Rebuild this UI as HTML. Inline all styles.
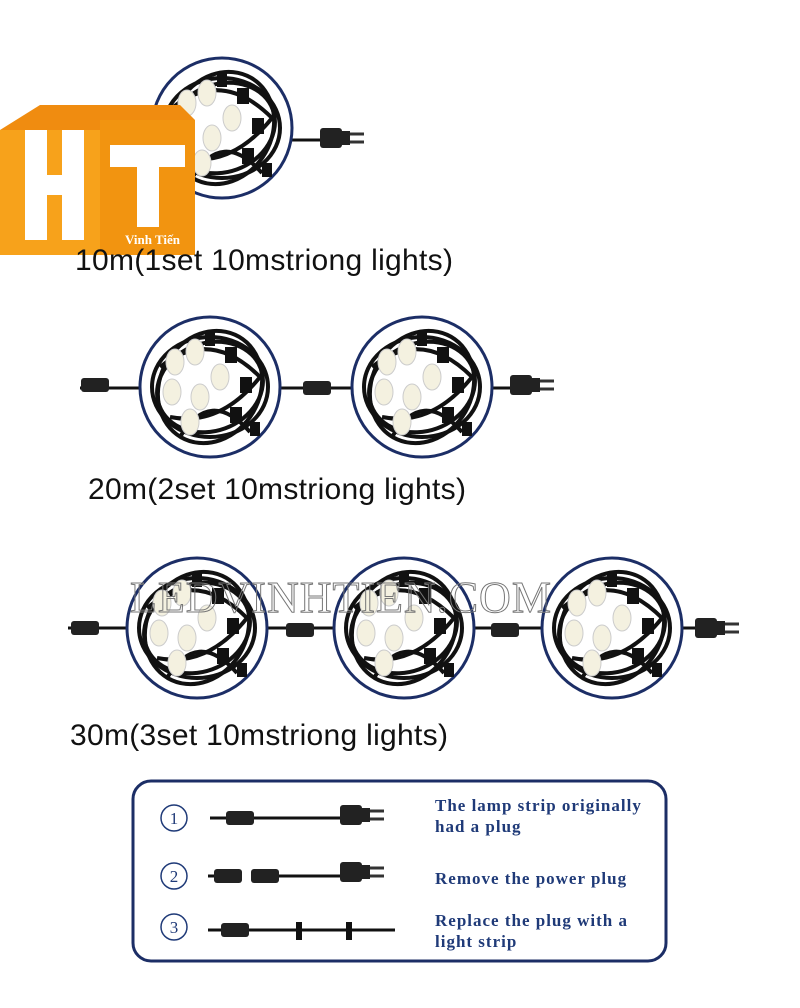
<!DOCTYPE html>
<html><head><meta charset="utf-8"><style>
body{margin:0;background:#fff;width:800px;height:1008px;overflow:hidden;position:relative;font-family:"Liberation Sans",sans-serif}
.t{position:absolute;font-size:30px;color:#111;letter-spacing:0.3px;white-space:nowrap}
.s{position:absolute;font-family:"Liberation Serif",serif;font-weight:bold;color:#1f3a78;font-size:17px;line-height:21px;letter-spacing:1px;white-space:nowrap}
</style></head><body>
<svg width="800" height="1008" style="position:absolute;left:0;top:0">
<defs>
<g id="coil">
<circle r="70" fill="#fff" stroke="#1c2e66" stroke-width="3"/>
<g fill="none" stroke="#111" stroke-width="4">
<ellipse rx="58" ry="50" />
<ellipse rx="50" ry="58" transform="rotate(30)"/>
<ellipse rx="54" ry="44" transform="rotate(-20)"/>
<path d="M-50 -20 Q0 -60 50 -10 Q10 40 -40 30"/>
<path d="M-30 50 Q0 0 40 45"/>
</g>
<g fill="#f4f1e0" stroke="#ccc">
<ellipse cx="-35" cy="-25" rx="9" ry="13"/><ellipse cx="-15" cy="-35" rx="9" ry="13"/>
<ellipse cx="-38" cy="5" rx="9" ry="13"/><ellipse cx="-10" cy="10" rx="9" ry="13"/>
<ellipse cx="10" cy="-10" rx="9" ry="13"/><ellipse cx="-20" cy="35" rx="9" ry="13"/>
</g>
<g fill="#111"><rect x="15" y="-40" width="12" height="16"/><rect x="30" y="-10" width="12" height="16"/><rect x="20" y="20" width="12" height="16"/><rect x="40" y="35" width="10" height="14"/><rect x="-5" y="-55" width="10" height="14"/></g>
</g>
<g id="plug"><rect x="0" y="-10" width="22" height="20" rx="3" fill="#222"/><rect x="22" y="-7" width="8" height="14" fill="#222"/><line x1="30" y1="-4" x2="44" y2="-4" stroke="#333" stroke-width="3"/><line x1="30" y1="4" x2="44" y2="4" stroke="#333" stroke-width="3"/></g>
<g id="conn"><rect x="-14" y="-7" width="28" height="14" rx="3" fill="#222"/></g>
</defs>
<line x1="290" y1="140" x2="320" y2="140" stroke="#111" stroke-width="3"/>
<use href="#coil" x="222" y="128"/><use href="#plug" x="320" y="138"/>
<line x1="80" y1="388" x2="530" y2="388" stroke="#111" stroke-width="3"/>
<use href="#conn" x="95" y="385"/><use href="#conn" x="317" y="388"/>
<use href="#coil" x="210" y="387"/><use href="#coil" x="422" y="387"/><use href="#plug" x="510" y="385"/>
<line x1="68" y1="628" x2="710" y2="628" stroke="#111" stroke-width="3"/>
<use href="#conn" x="85" y="628"/><use href="#conn" x="300" y="630"/><use href="#conn" x="505" y="630"/>
<use href="#coil" x="197" y="628"/><use href="#coil" x="404" y="628"/><use href="#coil" x="612" y="628"/><use href="#plug" x="695" y="628"/>
<text x="130" y="612" font-family="Liberation Serif" font-size="44" fill="none" stroke="#777" stroke-width="1" letter-spacing="1">LEDVINHTIEN.COM</text>
<polygon points="0,130 40,105 180,105 195,120 195,255 0,255" fill="#f08c10"/>
<rect x="0" y="130" width="100" height="125" fill="#f7a21b"/>
<rect x="100" y="120" width="95" height="135" fill="#f29410"/>
<rect x="25" y="130" width="22" height="110" fill="#fff"/><rect x="62" y="130" width="22" height="110" fill="#fff"/><rect x="47" y="175" width="15" height="20" fill="#fff"/>
<rect x="110" y="145" width="75" height="22" fill="#fff"/><rect x="137" y="167" width="22" height="60" fill="#fff"/>
<text x="125" y="244" font-family="Liberation Serif" font-size="13" font-weight="bold" fill="#fff">Vinh Tiến</text>
<rect x="133" y="781" width="533" height="180" rx="18" fill="#fff" stroke="#1c2e66" stroke-width="3"/>
<g fill="none" stroke="#1f3a78" stroke-width="1.5"><circle cx="174" cy="818" r="13"/><circle cx="174" cy="876" r="13"/><circle cx="174" cy="927" r="13"/></g>
<g font-family="Liberation Serif" font-size="17" fill="#1f3a78" text-anchor="middle"><text x="174" y="824">1</text><text x="174" y="882">2</text><text x="174" y="933">3</text></g>
<line x1="210" y1="818" x2="350" y2="818" stroke="#111" stroke-width="3"/><use href="#conn" x="240" y="818"/><use href="#plug" x="340" y="815"/>
<line x1="208" y1="876" x2="350" y2="876" stroke="#111" stroke-width="3"/><line x1="240" y1="876" x2="255" y2="876" stroke="#fff" stroke-width="5"/><use href="#conn" x="228" y="876"/><use href="#conn" x="265" y="876"/><use href="#plug" x="340" y="872"/>
<line x1="208" y1="930" x2="395" y2="930" stroke="#111" stroke-width="3"/><use href="#conn" x="235" y="930"/><rect x="296" y="922" width="6" height="18" fill="#111"/><rect x="346" y="922" width="6" height="18" fill="#111"/>
</svg>
<div class="t" style="left:75px;top:244px">10m(1set 10mstriong lights)</div>
<div class="t" style="left:88px;top:473px">20m(2set 10mstriong lights)</div>
<div class="t" style="left:70px;top:719px">30m(3set 10mstriong lights)</div>
<div class="s" style="left:435px;top:795px">The lamp strip originally<br>had a plug</div>
<div class="s" style="left:435px;top:868px">Remove the power plug</div>
<div class="s" style="left:435px;top:910px">Replace the plug with a<br>light strip</div>
</body></html>
